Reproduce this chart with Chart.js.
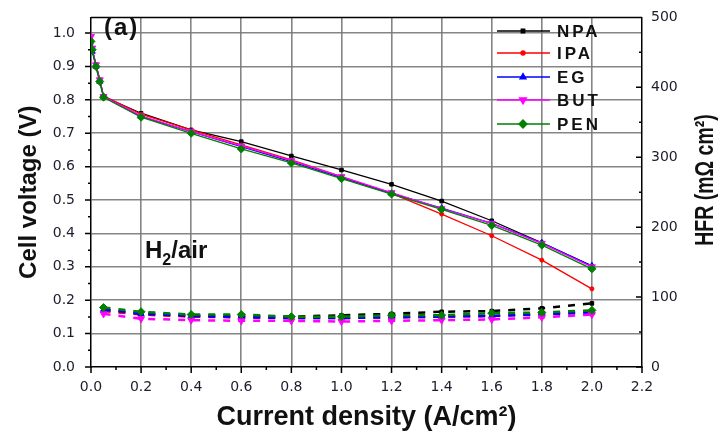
<!DOCTYPE html>
<html>
<head>
<meta charset="utf-8">
<title>Polarization and HFR</title>
<script src="https://cdn.jsdelivr.net/npm/chart.js@4.4.0/dist/chart.umd.min.js"></script>
<style>
  html, body { margin: 0; padding: 0; background: #fff; }
  #wrap { width: 720px; height: 434px; }
</style>
</head>
<body>
<div id="wrap"><canvas id="polChart" width="720" height="434"></canvas></div>
<script>
// Current density (A/cm2) for the polarization curves and the HFR points
const polCurrent = [0, 0.005, 0.02, 0.035, 0.05, 0.2, 0.4, 0.6, 0.8, 1.0, 1.2, 1.4, 1.6, 1.8, 2.0];
const hfrCurrent = [0.05, 0.2, 0.4, 0.6, 0.8, 1.0, 1.2, 1.4, 1.6, 1.8, 2.0];

// Cell voltage (V)
const npaVoltage = [0.97, 0.95, 0.905, 0.86, 0.81, 0.76, 0.71, 0.675, 0.632, 0.59, 0.547, 0.497, 0.438, 0.372, 0.302];
const ipaVoltage = [0.98, 0.95, 0.905, 0.86, 0.812, 0.757, 0.71, 0.665, 0.62, 0.57, 0.52, 0.458, 0.393, 0.32, 0.234];
const egVoltage  = [0.96, 0.945, 0.9, 0.855, 0.81, 0.75, 0.705, 0.66, 0.615, 0.567, 0.52, 0.476, 0.43, 0.372, 0.303];
const butVoltage = [0.99, 0.955, 0.905, 0.86, 0.81, 0.752, 0.705, 0.662, 0.618, 0.57, 0.522, 0.474, 0.43, 0.37, 0.30];
const penVoltage = [0.975, 0.95, 0.9, 0.855, 0.808, 0.748, 0.70, 0.653, 0.611, 0.564, 0.518, 0.472, 0.424, 0.365, 0.294];

// High frequency resistance (mOhm cm2)
const npaHfr = [82, 77, 74, 73, 72, 74, 76, 79, 80, 84, 91];
const ipaHfr = [80, 75, 72, 71, 70, 70, 71, 72, 73, 76, 80];
const egHfr  = [82, 76, 73, 71, 70, 70, 71, 72, 73, 75, 78];
const butHfr = [76, 69, 67, 66, 66, 65, 66, 67, 68, 71, 75];
const penHfr = [85, 79, 75, 75, 72, 72, 74, 74, 77, 78, 81];

// Axis ticks
const currentTicks = [0, 0.2, 0.4, 0.6, 0.8, 1.0, 1.2, 1.4, 1.6, 1.8, 2.0, 2.2];
const voltageTicks = [0, 0.1, 0.2, 0.3, 0.4, 0.5, 0.6, 0.7, 0.8, 0.9, 1.0];
const hfrTicks = [0, 100, 200, 300, 400, 500];

// Line and marker style for each additive
const series = [
    { label: 'NPA', color: '#000000', voltage: npaVoltage, hfr: npaHfr, style: 'rect', radius: 2.5, rotation: 0, order: 5 },
    { label: 'IPA', color: '#ff0000', voltage: ipaVoltage, hfr: ipaHfr, style: 'circle', radius: 2, rotation: 0, order: 4 },
    { label: 'EG', color: '#0000ff', voltage: egVoltage, hfr: egHfr, style: 'triangle', radius: 3.5, rotation: 0, order: 3 },
    { label: 'BUT', color: '#ff00ff', voltage: butVoltage, hfr: butHfr, style: 'triangle', radius: 4, rotation: 180, order: 2 },
    { label: 'PEN', color: '#008000', voltage: penVoltage, hfr: penHfr, style: 'rectRot', radius: 4, rotation: 0, order: 1 }
];

const gridGrey = 'rgba(120,120,120,0.9)';
const tickFont = { family: 'DejaVu Sans', size: 14 };

function toPoints(xs, ys) {
    return xs.map((x, i) => ({ x: x, y: ys[i] }));
}

const datasets = [];
series.forEach(s => {
    datasets.push({
        label: s.label,
        data: toPoints(polCurrent, s.voltage),
        yAxisID: 'y',
        borderColor: s.color,
        backgroundColor: s.color,
        borderWidth: 1.3,
        pointStyle: s.style,
        pointRadius: s.radius,
        pointRotation: s.rotation,
        pointBorderWidth: 1,
        order: s.order
    });
});
series.forEach(s => {
    datasets.push({
        label: s.label + ' HFR',
        data: toPoints(hfrCurrent, s.hfr),
        yAxisID: 'hfr',
        borderColor: s.color,
        backgroundColor: s.color,
        borderWidth: 2.5,
        borderDash: [7, 8],
        pointStyle: s.style,
        pointRadius: s.radius,
        pointRotation: s.rotation,
        pointBorderWidth: 1,
        order: s.order
    });
});

// Frame, minor ticks, legend and text labels drawn on top of the chart
const decorPlugin = {
    id: 'decor',
    afterDraw(chart) {
        const ctx = chart.ctx;
        const { left, right, top, bottom } = chart.chartArea;
        const xs = chart.scales.x, ys = chart.scales.y, hs = chart.scales.hfr;

        ctx.save();
        ctx.strokeStyle = '#000';
        ctx.lineWidth = 1.5;
        ctx.beginPath();
        ctx.moveTo(left, top);
        ctx.lineTo(right, top);
        // current density ticks, every 0.1
        for (let i = 0; i <= 22; i++) {
            const px = xs.getPixelForValue(i * 0.1);
            ctx.moveTo(px, bottom);
            ctx.lineTo(px, bottom + (i % 2 === 0 ? 6 : 3));
        }
        // voltage ticks, every 0.05
        for (let i = 0; i <= 20; i++) {
            const py = ys.getPixelForValue(i * 0.05);
            ctx.moveTo(left, py);
            ctx.lineTo(left - (i % 2 === 0 ? 6 : 3), py);
        }
        // HFR ticks, every 50, pointing inwards
        for (let i = 0; i <= 10; i++) {
            const py = hs.getPixelForValue(i * 50);
            ctx.moveTo(right, py);
            ctx.lineTo(right - (i % 2 === 0 ? 6 : 3), py);
        }
        ctx.stroke();

        // legend
        const rows = [31, 53, 77, 100, 124];
        ctx.font = 'bold 17px "Liberation Sans"';
        ctx.textBaseline = 'middle';
        ctx.textAlign = 'left';
        ctx.letterSpacing = '3px';
        series.forEach((s, i) => {
            const ry = rows[i];
            ctx.strokeStyle = s.color;
            ctx.fillStyle = s.color;
            ctx.lineWidth = 1.3;
            ctx.setLineDash([]);
            ctx.beginPath();
            ctx.moveTo(497, ry);
            ctx.lineTo(550, ry);
            ctx.stroke();
            Chart.helpers.drawPoint(ctx, { pointStyle: s.style, radius: s.radius, rotation: s.rotation, borderWidth: 1 }, 523, ry);
            ctx.fillStyle = '#111';
            ctx.fillText(s.label, 557, ry + 1);
        });
        ctx.letterSpacing = '0px';

        // panel tag and gas label
        ctx.fillStyle = '#111';
        ctx.textBaseline = 'alphabetic';
        ctx.font = 'bold 24px "Liberation Sans"';
        ctx.letterSpacing = '2px';
        ctx.fillText('(a)', 104, 35);
        ctx.letterSpacing = '0px';
        ctx.fillText('H', 145, 258);
        const hw = ctx.measureText('H').width;
        ctx.font = 'bold 16px "Liberation Sans"';
        ctx.fillText('2', 145 + hw, 265);
        const sw = ctx.measureText('2').width;
        ctx.font = 'bold 24px "Liberation Sans"';
        ctx.fillText('/air', 145 + hw + sw, 258);

        // right axis title, reading upwards
        ctx.translate(706, 180);
        ctx.rotate(-Math.PI / 2);
        ctx.scale(0.75, 1);
        ctx.font = 'bold 26px "Liberation Sans"';
        ctx.textAlign = 'center';
        ctx.textBaseline = 'middle';
        ctx.fillText('HFR (m\u03a9 cm\u00b2)', 0, 0);
        ctx.restore();
    }
};

const ctx = document.getElementById('polChart').getContext('2d');
const chart = new Chart(ctx, {
    type: 'line',
    data: { datasets: datasets },
    plugins: [decorPlugin],
    options: {
        responsive: false,
        animation: false,
        devicePixelRatio: 1,
        layout: { padding: { top: 14, left: 0, right: 0, bottom: 0 } },
        plugins: {
            legend: { display: false },
            tooltip: { enabled: false }
        },
        scales: {
            x: {
                type: 'linear',
                min: 0,
                max: 2.2,
                afterBuildTicks: s => { s.ticks = currentTicks.map(v => ({ value: v })); },
                afterFit: s => { s.height = 67; },
                ticks: {
                    callback: v => v.toFixed(1),
                    font: tickFont,
                    color: '#1c1c2c',
                    padding: 6,
                    maxRotation: 0,
                    autoSkip: false
                },
                grid: {
                    color: c => (c.tick && c.tick.value > 0.001 && c.tick.value < 2.199) ? gridGrey : 'transparent',
                    lineWidth: 1.6,
                    tickLength: 6,
                    tickColor: 'transparent'
                },
                border: { color: '#000', width: 1.5 },
                title: {
                    display: true,
                    text: 'Current density (A/cm\u00b2)',
                    font: { family: 'Liberation Sans', size: 27, weight: 'bold' },
                    color: '#111',
                    padding: 0
                }
            },
            y: {
                position: 'left',
                min: 0,
                max: 1.047,
                afterBuildTicks: s => { s.ticks = voltageTicks.map(v => ({ value: v })); },
                afterFit: s => { s.width = 91; },
                ticks: {
                    callback: v => v.toFixed(1),
                    font: tickFont,
                    color: '#1c1c2c',
                    padding: 8
                },
                grid: {
                    color: c => (c.tick && c.tick.value > 0.001) ? gridGrey : 'transparent',
                    lineWidth: 1.6,
                    tickLength: 8,
                    tickColor: 'transparent'
                },
                border: { color: '#000', width: 1.5 },
                title: {
                    display: true,
                    text: 'Cell voltage (V)',
                    font: { family: 'Liberation Sans', size: 24, weight: 'bold' },
                    color: '#111',
                    padding: { top: 15, bottom: 0 }
                }
            },
            hfr: {
                position: 'right',
                min: 0,
                max: 500,
                afterBuildTicks: s => { s.ticks = hfrTicks.map(v => ({ value: v })); },
                afterFit: s => { s.width = 78; },
                ticks: {
                    font: tickFont,
                    color: '#1c1c2c',
                    padding: 9
                },
                grid: {
                    drawOnChartArea: false,
                    drawTicks: false
                },
                border: { color: '#000', width: 1.5 }
            }
        }
    }
});
</script>
</body>
</html>
